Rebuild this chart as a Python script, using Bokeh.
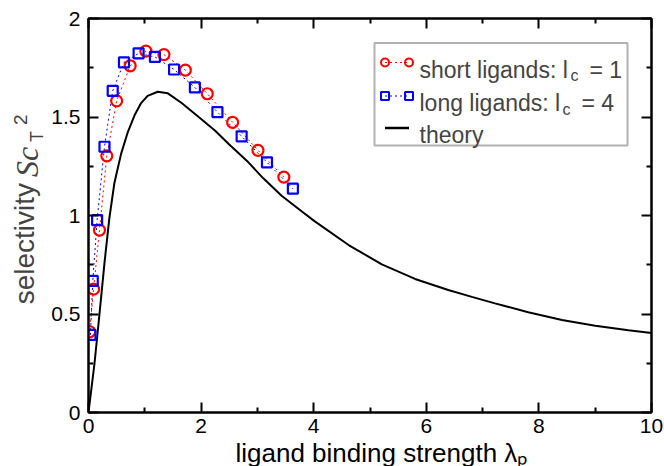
import numpy as np
from bokeh.plotting import figure
from bokeh.layouts import row
from bokeh.models import Range1d, LinearAxis, FixedTicker, Label, BoxAnnotation, CustomJSTickFormatter, Title
from bokeh.embed import file_html
from bokeh.resources import INLINE

# ---- data ----
short_x = [0.02, 0.09, 0.195, 0.325, 0.50, 0.74, 1.02, 1.34, 1.72, 2.11, 2.56, 3.01, 3.47]
short_y = [0.41, 0.626, 0.926, 1.303, 1.582, 1.76, 1.834, 1.817, 1.738, 1.618, 1.473, 1.331, 1.195]
long_x = [0.035, 0.076, 0.153, 0.284, 0.43, 0.63, 0.89, 1.18, 1.52, 1.89, 2.29, 2.72, 3.17, 3.63]
long_y = [0.394, 0.668, 0.977, 1.349, 1.633, 1.777, 1.823, 1.805, 1.741, 1.65, 1.525, 1.402, 1.27, 1.136]
theory_x = [0.0, 0.107, 0.195, 0.284, 0.37, 0.46, 0.58, 0.70, 0.82, 0.93, 1.05, 1.23, 1.41, 1.66,
            2.0, 2.25, 2.5, 2.84, 3.1, 3.43, 3.79, 4.02, 4.62, 5.21, 5.80, 6.39, 6.81, 7.22, 7.81,
            8.41, 9.0, 9.59, 10.0]
theory_y = [0.0, 0.25, 0.50, 0.76, 0.985, 1.165, 1.314, 1.425, 1.51, 1.569, 1.607, 1.628, 1.62, 1.57,
            1.49, 1.43, 1.36, 1.27, 1.19, 1.10, 1.02, 0.97, 0.85, 0.752, 0.678, 0.622, 0.587, 0.554, 0.509,
            0.470, 0.440, 0.417, 0.403]

x_major = [0, 2, 4, 6, 8, 10]
x_minor = [1, 3, 5, 7, 9]
y_major = [0, 0.5, 1, 1.5, 2]
y_minor = [0.25, 0.75, 1.25, 1.75]
y_tick_labels = ["0", "0.5", "1", "1.5", "2"]

legend_labels = [("short ligands: l", "c", "= 1"), ("long ligands: l", "c", "= 4"), ("theory", "", "")]
x_title = "ligand binding strength  λₚ"
y_title = ("selectivity", "Sc", "T", "2")

# ---- layout constants (page pixels) ----
YW = 48          # width of the strip holding the y title
FL, FT, FW, FH = 87, 18, 563, 394   # frame left/top/width/height on the page
BB = 466 - FT - FH
FONT = "Liberation Sans"

p = figure(frame_width=FW, frame_height=FH, min_border_left=FL - YW, min_border_top=FT,
           min_border_right=664 - FL - FW, min_border_bottom=BB,
           x_range=Range1d(0, 10), y_range=Range1d(0, 2),
           output_backend="svg", toolbar_location=None,
           x_axis_location=None, y_axis_location=None)
p.grid.visible = False
p.background_fill_color = "white"
p.border_fill_color = "white"
p.outline_line_color = "black"
p.outline_line_width = 2


def style_axis(ax, ticks, minor, show_labels):
    ax.ticker = FixedTicker(ticks=ticks, minor_ticks=minor)
    ax.axis_line_color = "black"
    ax.axis_line_width = 2
    ax.major_tick_in = 10
    ax.major_tick_out = 0
    ax.minor_tick_in = 5
    ax.minor_tick_out = 0
    ax.major_tick_line_width = 2
    ax.minor_tick_line_width = 2
    ax.major_tick_line_color = "black"
    ax.minor_tick_line_color = "black"
    ax.major_label_text_font = FONT
    ax.major_label_text_color = "black"
    ax.major_label_text_font_size = "21px"
    if not show_labels:
        ax.formatter = CustomJSTickFormatter(code="return ''")
        ax.major_label_standoff = 0


xb = LinearAxis()
style_axis(xb, x_major, x_minor, True)
xb.major_label_standoff = 6
p.add_layout(xb, "below")
xt = LinearAxis()
style_axis(xt, x_major, x_minor, False)
p.add_layout(xt, "above")
yl = LinearAxis()
style_axis(yl, y_major, y_minor, True)
yl.major_label_standoff = 8
yl.major_label_overrides = {v: s for v, s in zip(y_major, y_tick_labels)}
p.add_layout(yl, "left")
yr = LinearAxis()
style_axis(yr, y_major, y_minor, False)
p.add_layout(yr, "right")

# x title in the bottom panel
p.add_layout(Title(text=x_title, align="left", offset=147, text_font=FONT, text_font_size="26px",
                   text_font_style="normal", text_color="black", standoff=0), "below")

# ---- data marks ----
p.line(theory_x, theory_y, line_color="black", line_width=2)
p.line(short_x, short_y, line_color="red", line_width=1, line_dash="2 3")
p.line(long_x, long_y, line_color="blue", line_width=1, line_dash="2 3")
p.scatter(short_x, short_y, marker="circle", size=11, fill_color=None, line_color="red", line_width=2.2)
p.scatter(long_x, long_y, marker="square", size=10, fill_color=None, line_color="blue", line_width=2.2)


# page-pixel -> data helpers (used only to place the legend)
def dx(px):
    return (px - FL) / (FW / 10.0)


def dy(py):
    return (FT + FH - py) / (FH / 2.0)


# ---- legend (built by hand to allow subscripts) ----
p.add_layout(BoxAnnotation(left=dx(373), right=dx(626), top=dy(42.5), bottom=dy(145),
                           fill_color="white", fill_alpha=1.0, line_color="black", line_width=2,
                           level="underlay"))
row_y = [62, 95.5, 127.5]
sx = [dx(383.5), dx(407.5)]
p.line(sx, [dy(row_y[0])] * 2, line_color="red", line_width=1, line_dash="2 3")
p.scatter(sx, [dy(row_y[0])] * 2, marker="circle", size=8, fill_color=None, line_color="red", line_width=2)
p.line(sx, [dy(row_y[1])] * 2, line_color="blue", line_width=1, line_dash="2 3")
p.scatter(sx, [dy(row_y[1])] * 2, marker="square", size=8, fill_color=None, line_color="blue", line_width=2)
p.line(sx, [dy(row_y[2])] * 2, line_color="black", line_width=2.5)

sub_x = [569, 561]
eq_x = [588, 580]
for i, (main, sub, rest) in enumerate(legend_labels):
    base = row_y[i] + 7
    p.add_layout(Label(x=dx(418), y=dy(base), text=main, text_font=FONT, text_font_size="23px",
                       text_baseline="alphabetic", text_align="left"))
    if sub:
        p.add_layout(Label(x=dx(sub_x[i]), y=dy(base + 6), text=sub, text_font=FONT, text_font_size="16px",
                           text_baseline="alphabetic", text_align="left"))
        p.add_layout(Label(x=dx(eq_x[i]), y=dy(base), text=rest, text_font=FONT, text_font_size="23px",
                           text_baseline="alphabetic", text_align="left"))

# ---- strip holding the y title (frame = whole canvas, y measured from page top) ----
yfig = figure(width=YW, height=466, x_range=Range1d(0, YW), y_range=Range1d(466, 0),
              output_backend="svg", toolbar_location=None, min_border=0,
              x_axis_location=None, y_axis_location=None)
yfig.grid.visible = False
yfig.outline_line_color = None
yfig.background_fill_color = "white"
yfig.border_fill_color = "white"

ang = np.pi / 2
yfig.add_layout(Label(x=24, y=267, text=y_title[0], text_font=FONT, text_font_size="28px",
                      angle=ang, text_baseline="middle", text_align="center"))
yfig.add_layout(Label(x=26, y=170, text=y_title[1], text_font="Liberation Serif", text_font_style="italic",
                      text_font_size="32px", angle=ang, text_baseline="middle", text_align="center"))
yfig.add_layout(Label(x=36, y=140, text=y_title[2], text_font=FONT, text_font_size="18px",
                      angle=ang, text_baseline="middle", text_align="center"))
yfig.add_layout(Label(x=20, y=120, text=y_title[3], text_font=FONT, text_font_size="19px",
                      angle=ang, text_baseline="middle", text_align="center"))

page = row(yfig, p, spacing=0)
open("out.html", "w").write(file_html(page, INLINE))
